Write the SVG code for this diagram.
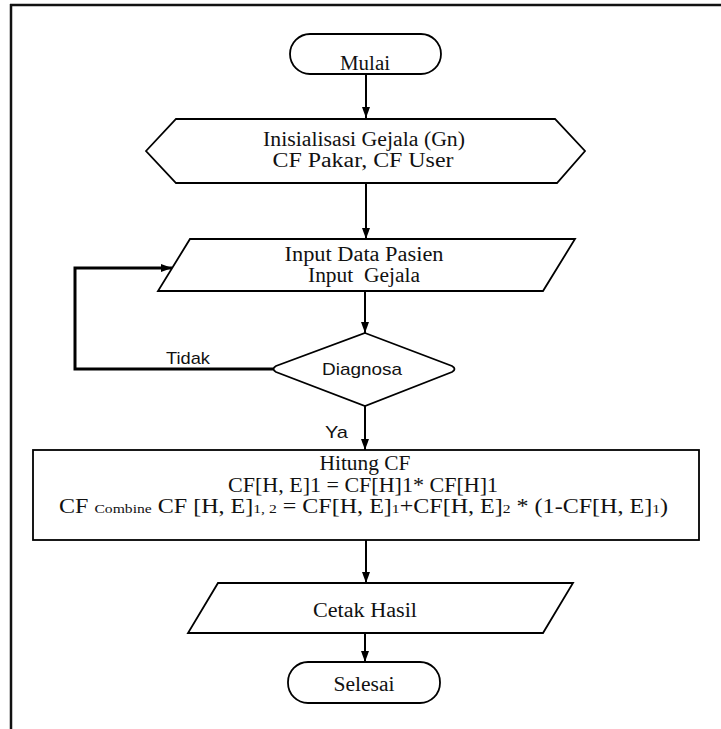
<svg xmlns="http://www.w3.org/2000/svg" width="721" height="729" viewBox="0 0 721 729">
<defs>
<style>
.sh{fill:#fff;stroke:#000;stroke-width:1.8}
.ln{fill:none;stroke:#000;stroke-width:2}
.lp{fill:none;stroke:#000;stroke-width:3}
.t{font-family:"Liberation Serif","Times New Roman",serif;font-size:20px;fill:#111;text-anchor:middle}
.s{font-family:"Liberation Sans",Arial,sans-serif;font-size:17px;fill:#111}
</style>
<marker id="ah" markerUnits="userSpaceOnUse" markerWidth="12" markerHeight="10" refX="11" refY="4" orient="auto">
<path d="M0,0 L11,4 L0,8 Z" fill="#000"/>
</marker>
</defs>
<rect width="721" height="729" fill="#fff"/>
<g id="frame">
<line x1="10" y1="5" x2="721" y2="5" stroke="#111" stroke-width="2.5"/>
<line x1="11" y1="4" x2="11" y2="729" stroke="#111" stroke-width="2.5"/>
</g>
<g id="connectors">
<line class="ln" x1="366" y1="74" x2="366" y2="118" marker-end="url(#ah)"/>
<line class="ln" x1="366" y1="183" x2="366" y2="239" marker-end="url(#ah)"/>
<line class="ln" x1="365" y1="291" x2="365" y2="333" marker-end="url(#ah)"/>
<polyline class="lp" points="273,369 75,369 75,268 172,268" marker-end="url(#ah)"/>
<line class="ln" x1="365" y1="406" x2="365" y2="450" marker-end="url(#ah)"/>
<line class="ln" x1="366" y1="540" x2="366" y2="583" marker-end="url(#ah)"/>
<line class="ln" x1="365" y1="633" x2="365" y2="662" marker-end="url(#ah)"/>
<text class="s" x="166" y="364" textLength="44" lengthAdjust="spacingAndGlyphs">Tidak</text>
<text class="s" x="325" y="438" textLength="23" lengthAdjust="spacingAndGlyphs">Ya</text>
</g>
<g id="mulai">
<rect class="sh" x="290" y="34" width="151" height="40" rx="20" ry="20"/>
<text class="t" x="365" y="70" textLength="50" lengthAdjust="spacingAndGlyphs">Mulai</text>
</g>
<g id="inisialisasi">
<polygon class="sh" points="146,151 176,119 555,119 585,151 557,183 176,183"/>
<text class="t" x="364" y="146" textLength="202" lengthAdjust="spacingAndGlyphs">Inisialisasi Gejala (Gn)</text>
<text class="t" x="363" y="167" textLength="181" lengthAdjust="spacingAndGlyphs">CF Pakar, CF User</text>
</g>
<g id="input">
<polygon class="sh" points="190,239 575,239 543,291 158,291"/>
<text class="t" x="364" y="261" textLength="159" lengthAdjust="spacingAndGlyphs">Input Data Pasien</text>
<text class="t" x="364" y="282" textLength="112" lengthAdjust="spacingAndGlyphs" style="white-space:pre">Input  Gejala</text>
</g>
<g id="diagnosa">
<path class="sh" d="M365,333 L452,366 Q457,369 452,372 L365,406 L276,372 Q271,369 276,366 Z"/>
<text class="s" x="362" y="375" text-anchor="middle" textLength="80" lengthAdjust="spacingAndGlyphs">Diagnosa</text>
</g>
<g id="hitung">
<rect class="sh" x="33" y="450" width="666" height="90"/>
<text class="t" x="365" y="470" textLength="91" lengthAdjust="spacingAndGlyphs">Hitung CF</text>
<text class="t" x="363" y="492" textLength="270" lengthAdjust="spacingAndGlyphs">CF[H, E]1 = CF[H]1* CF[H]1</text>
<text class="t" x="363.5" y="513" textLength="609" lengthAdjust="spacingAndGlyphs">CF <tspan font-size="13">Combine</tspan> CF [H, E]<tspan font-size="13">1, 2</tspan> = CF[H, E]<tspan font-size="13">1</tspan>+CF[H, E]<tspan font-size="13">2</tspan> * (1-CF[H, E]<tspan font-size="13">1</tspan>)</text>
</g>
<g id="cetak">
<polygon class="sh" points="218,583 573,583 543,633 188,633"/>
<text class="t" x="365" y="617" textLength="104" lengthAdjust="spacingAndGlyphs">Cetak Hasil</text>
</g>
<g id="selesai">
<rect class="sh" x="288" y="662" width="152" height="41" rx="20" ry="20"/>
<text class="t" x="364" y="691" textLength="61" lengthAdjust="spacingAndGlyphs">Selesai</text>
</g>
</svg>
